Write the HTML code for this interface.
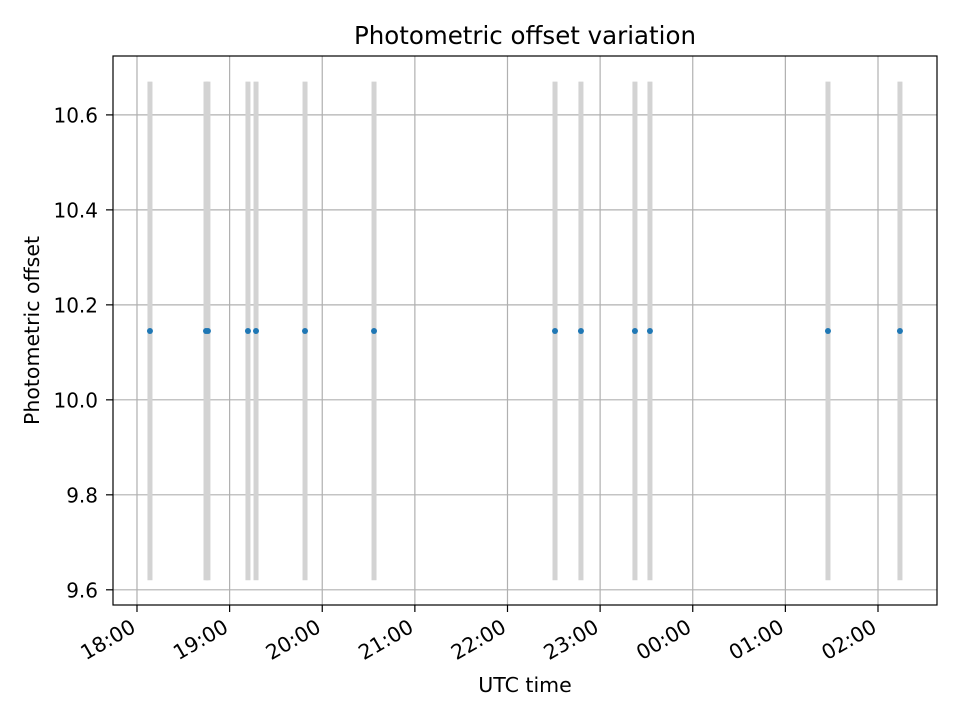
<!DOCTYPE html>
<html><head><meta charset="utf-8"><style>
html,body{margin:0;padding:0;background:#fff;}
svg text{font-family:"DejaVu Sans","Liberation Sans",sans-serif;fill:#000;}
</style></head><body>
<svg id="chart" width="960" height="720" viewBox="0 0 960 720"></svg>
<script>
// hours since 18:00 UTC
const times = [0.140, 0.745, 0.766, 1.198, 1.285, 1.814, 2.559, 4.513, 4.793, 5.376, 5.538, 7.460, 8.237];
const offsets = [10.145,10.145,10.145,10.145,10.145,10.145,10.145,10.145,10.145,10.145,10.145,10.145,10.145];
const errors = [0.525,0.525,0.525,0.525,0.525,0.525,0.525,0.525,0.525,0.525,0.525,0.525,0.525];
const xTicks = [0,1,2,3,4,5,6,7,8];
const xTickLabels = ["18:00","19:00","20:00","21:00","22:00","23:00","00:00","01:00","02:00"];
const yTicks = [9.6,9.8,10.0,10.2,10.4,10.6];
const yTickLabels = ["9.6","9.8","10.0","10.2","10.4","10.6"];

const L=113,R=937,T=56,B=605;
const xMin=-0.259,xMax=8.637,yMin=9.568,yMax=10.724;
const sx=v=>L+(v-xMin)/(xMax-xMin)*(R-L);
const sy=v=>B-(v-yMin)/(yMax-yMin)*(B-T);
const svg=document.getElementById('chart');
const NS='http://www.w3.org/2000/svg';
function mk(tag,attrs,parent){const e=document.createElementNS(NS,tag);for(const k in attrs)e.setAttribute(k,attrs[k]);(parent||svg).appendChild(e);return e;}

const grid=mk('g',{});


xTicks.forEach((t,i)=>{
  const x=sx(t);
  const g=mk('line',{x1:x,x2:x,y1:T,y2:B,stroke:'#b0b0b0','stroke-width':1.2},grid);
  
  
  const tk=mk('line',{x1:x,x2:x,y1:B,y2:B+7,stroke:'#000','stroke-width':1.2});
  
  
  const ax=x, ay=631;
  const tx=mk('text',{x:ax,y:ay,'font-size':20.5,'text-anchor':'end',transform:`rotate(-30 ${ax} ${ay})`});
  tx.textContent=xTickLabels[i];
  
  
});
yTicks.forEach((t,i)=>{
  const y=sy(t);
  const g=mk('line',{x1:L,x2:R,y1:y,y2:y,stroke:'#b0b0b0','stroke-width':1.2},grid);
  
  
  const tk=mk('line',{x1:L-7,x2:L,y1:y,y2:y,stroke:'#000','stroke-width':1.2});
  
  
  const tx=mk('text',{x:L-15,y:y+7.5,'font-size':20,'text-anchor':'end'});
  tx.textContent=yTickLabels[i];
  
  
});
times.forEach((t,i)=>{
  const x=sx(t);
  const eb=mk('line',{x1:x,x2:x,y1:sy(offsets[i]-errors[i]),y2:sy(offsets[i]+errors[i]),stroke:'#d3d3d3','stroke-width':5});
  
  
});
times.forEach((t,i)=>{
  const p=mk('circle',{cx:sx(t),cy:sy(offsets[i]),r:3,fill:'#1f77b4'});
  
  
});
const frame=mk('rect',{x:L,y:T,width:R-L,height:B-T,fill:'none',stroke:'#000','stroke-width':1.2});


const title=mk('text',{x:(L+R)/2,y:44,'font-size':24.5,'text-anchor':'middle'});
title.textContent='Photometric offset variation';


const xl=mk('text',{x:(L+R)/2,y:692,'font-size':20.5,'text-anchor':'middle'});
xl.textContent='UTC time';


const ylx=39, yly=(T+B)/2;
const yl=mk('text',{x:ylx,y:yly,'font-size':20.5,'text-anchor':'middle',transform:`rotate(-90 ${ylx} ${yly})`});
yl.textContent='Photometric offset';


</script>
</body></html>
